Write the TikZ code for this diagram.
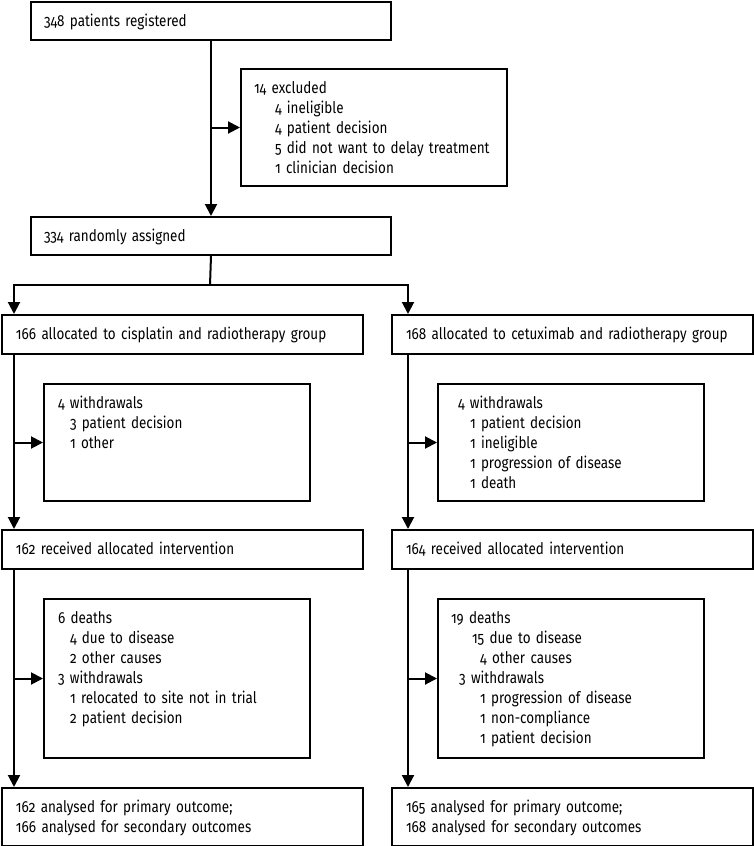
\documentclass[tikz,border=0pt]{standalone}
\usepackage{fontspec}
\setmainfont{Fira Sans}[Numbers=OldStyle, FakeStretch=0.84]
\usetikzlibrary{arrows.meta,calc}
\newcommand\ind[1]{\hspace*{#1pt}}
\newcommand\dg{\hphantom{0}}
\begin{document}
\begin{tikzpicture}[x=1pt,y=-1pt,
  box/.style={draw, line width=2pt, inner ysep=0pt, text height=24pt,
    align=left, anchor=north west, font=\fontsize{16}{20}\selectfont},
  one/.style={text depth=14pt},
  arr/.style={line width=2pt, -{Triangle[length=12pt,width=12pt]}},
  ln/.style={line width=2pt}]
\useasboundingbox (0,0) rectangle (754,846);

\node[box, one, text width=334pt, inner xsep=13pt] (reg) at (30,1) {348 patients registered};
\node[box, text width=240pt, inner xsep=13pt, text depth=93pt] (excl) at (240,68)
  {14 excluded\\
   \ind{21}4 ineligible\\
   \ind{21}4 patient decision\\
   \ind{21}5 did not want to delay treatment\\
   \ind{21}1 clinician decision};
\node[box, one, text width=334pt, inner xsep=13pt] (rand) at (30,216) {334 randomly assigned};

\node[box, text depth=15pt, text width=333pt, inner xsep=14pt] (allocL) at (1,314)
  {166 allocated to cisplatin and radiotherapy group};
\node[box, text depth=15pt, text width=333pt, inner xsep=14pt] (allocR) at (391,314)
  {168 allocated to cetuximab and radiotherapy group};

\node[box, text width=238pt, inner xsep=14pt, text depth=93pt] (wdL) at (43,383)
  {4 withdrawals\\
   \ind{12}3 patient decision\\
   \ind{12}1 other};
\node[box, text width=226pt, inner xsep=20pt, text depth=93pt] (wdR) at (437,383)
  {4 withdrawals\\
   \ind{12}1 patient decision\\
   \ind{12}1 ineligible\\
   \ind{12}1 progression of disease\\
   \ind{12}1 death};

\node[box, text depth=15pt, text width=333pt, inner xsep=14pt] (recL) at (1,529)
  {162 received allocated intervention};
\node[box, text depth=15pt, text width=333pt, inner xsep=14pt] (recR) at (391,529)
  {164 received allocated intervention};

\node[box, text width=238pt, inner xsep=14pt, text depth=135pt] (dL) at (43,598)
  {6 deaths\\
   \ind{12}4 due to disease\\
   \ind{12}2 other causes\\
   3 withdrawals\\
   \ind{12}1 relocated to site not in trial\\
   \ind{12}2 patient decision};
\node[box, text width=240pt, inner xsep=13pt, text depth=135pt] (dR) at (437,598)
  {19 deaths\\
   \ind{21}15 due to disease\\
   \ind{21}\dg4 other causes\\
   \dg3 withdrawals\\
   \ind{21}\dg1 progression of disease\\
   \ind{21}\dg1 non-compliance\\
   \ind{21}\dg1 patient decision};

\node[box, text depth=34pt, text width=333pt, inner xsep=14pt] (finL) at (1,787)
  {162 analysed for primary outcome;\\166 analysed for secondary outcomes};
\node[box, text depth=34pt, text width=333pt, inner xsep=14pt] (finR) at (391,787)
  {165 analysed for primary outcome;\\168 analysed for secondary outcomes};

\coordinate (split) at (210,285);
\coordinate (tL) at (14,285);
\coordinate (tR) at (408,285);

\draw[arr] (reg.south) -- (rand.north);
\draw[arr] (reg.south |- excl.west) -- (excl.west);
\draw[ln] (rand.south) -- (split);
\draw[arr] (split) -| (tL |- allocL.north);
\draw[arr] (split) -| (tR |- allocR.north);

\draw[arr] (tL |- allocL.south) -- (tL |- recL.north);
\draw[arr] (tL |- wdL.west) -- (wdL.west);
\draw[arr] (tL |- recL.south) -- (tL |- finL.north);
\draw[arr] (tL |- dL.west) -- (dL.west);

\draw[arr] (tR |- allocR.south) -- (tR |- recR.north);
\draw[arr] (tR |- wdR.west) -- (wdR.west);
\draw[arr] (tR |- recR.south) -- (tR |- finR.north);
\draw[arr] (tR |- dR.west) -- (dR.west);
\end{tikzpicture}
\end{document}
